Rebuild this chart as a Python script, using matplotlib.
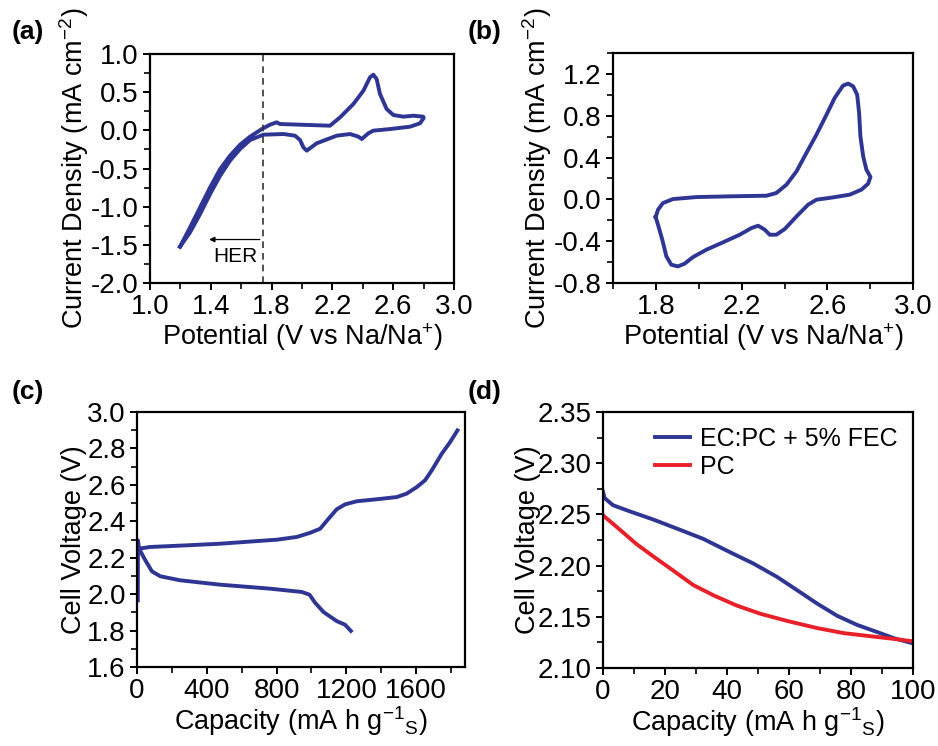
import numpy as np
import matplotlib.pyplot as plt
from matplotlib.ticker import MultipleLocator

plt.rcParams['font.family'] = ['Liberation Sans', 'DejaVu Sans']
plt.rcParams['mathtext.fontset'] = 'custom'
plt.rcParams['mathtext.rm'] = 'Liberation Sans'
plt.rcParams['mathtext.it'] = 'Liberation Sans:italic'
plt.rcParams['axes.unicode_minus'] = False

BLUE = '#2e3592'
RED = '#e8202a'

# (a) CV with HER region
cv_a_v = [1.197, 1.263, 1.329, 1.395, 1.461, 1.526, 1.592, 1.658, 1.735, 1.789, 1.833, 1.855,
          1.987, 2.184, 2.25, 2.338, 2.404, 2.447, 2.469, 2.491, 2.513, 2.557, 2.601, 2.667,
          2.732, 2.798, 2.80, 2.776, 2.711, 2.579, 2.469, 2.436, 2.393, 2.371, 2.316, 2.228,
          2.096, 2.031, 2.009, 1.987, 1.954, 1.877, 1.746, 1.658, 1.592, 1.526, 1.461, 1.395,
          1.329, 1.263, 1.197]
cv_a_i = [-1.524, -1.271, -1.009, -0.747, -0.507, -0.332, -0.188, -0.083, 0.017, 0.074, 0.105, 0.083,
          0.074, 0.061, 0.17, 0.345, 0.52, 0.694, 0.729, 0.672, 0.476, 0.279, 0.201, 0.179,
          0.192, 0.179, 0.16, 0.092, 0.048, 0.017, -0.004, -0.039, -0.114, -0.083, -0.048, -0.07,
          -0.17, -0.266, -0.223, -0.127, -0.07, -0.048, -0.057, -0.127, -0.245, -0.397, -0.594, -0.834,
          -1.096, -1.336, -1.524]
her_v = 1.74

# (b) CV
cv_b_v = [1.799, 1.81, 1.833, 1.88, 1.989, 2.144, 2.316, 2.362, 2.409, 2.456, 2.502, 2.549,
          2.596, 2.634, 2.673, 2.697, 2.72, 2.739, 2.748, 2.754, 2.767, 2.782, 2.801,
          2.79, 2.759, 2.704, 2.627, 2.549, 2.51, 2.456, 2.401, 2.362, 2.331, 2.308, 2.277,
          2.246, 2.191, 2.113, 2.036, 1.973, 1.934, 1.903, 1.872, 1.849, 1.83, 1.81, 1.799]
cv_b_i = [-0.169, -0.099, -0.035, 0.003, 0.022, 0.029, 0.035, 0.061, 0.14, 0.268, 0.443, 0.619,
          0.81, 0.97, 1.088, 1.107, 1.081, 1.001, 0.826, 0.603, 0.411, 0.284, 0.214,
          0.15, 0.093, 0.045, 0.019, -0.003, -0.051, -0.163, -0.284, -0.338, -0.338, -0.29, -0.252,
          -0.274, -0.338, -0.411, -0.481, -0.552, -0.615, -0.641, -0.625, -0.545, -0.386, -0.242, -0.169]

# (c) galvanostatic charge / discharge
chg_cap = [5, 6, 12, 76, 286, 477, 668, 802, 916, 993, 1050, 1098, 1145, 1193, 1260, 1375,
           1489, 1546, 1604, 1651, 1690, 1747, 1795, 1837]
chg_v = [1.966, 2.295, 2.25, 2.259, 2.268, 2.277, 2.29, 2.299, 2.314, 2.337, 2.359, 2.414,
         2.466, 2.493, 2.51, 2.521, 2.533, 2.552, 2.588, 2.625, 2.68, 2.771, 2.835, 2.899]
dis_cap = [12, 48, 86, 134, 248, 477, 764, 945, 989, 1021, 1069, 1145, 1193, 1226]
dis_v = [2.25, 2.186, 2.125, 2.098, 2.076, 2.052, 2.03, 2.012, 1.997, 1.953, 1.902, 1.852,
         1.832, 1.798]

# (d) discharge, two electrolytes
d_cap_fec = [0, 0.5, 3.2, 8.6, 16.2, 24.8, 32.4, 41, 48.5, 56.1, 62.6, 69, 75.5, 82, 88.5, 93.9, 100]
d_v_fec = [2.272, 2.266, 2.259, 2.253, 2.245, 2.235, 2.226, 2.213, 2.202, 2.189, 2.176, 2.163,
           2.151, 2.142, 2.135, 2.129, 2.124]
d_cap_pc = [0, 4.3, 10.8, 16.2, 22.7, 29.1, 35.6, 43.1, 50.7, 59.3, 69, 77.7, 86.3, 94.9, 100]
d_v_pc = [2.249, 2.238, 2.221, 2.209, 2.195, 2.181, 2.171, 2.161, 2.153, 2.146, 2.139, 2.134,
          2.131, 2.128, 2.126]

fig = plt.figure(figsize=(9.38, 7.46), dpi=100)
ax_a = fig.add_axes([0.160, 0.6206, 0.324, 0.307])
ax_b = fig.add_axes([0.6535, 0.6206, 0.320, 0.3084])
ax_c = fig.add_axes([0.146, 0.1059, 0.3497, 0.3418])
ax_d = fig.add_axes([0.6429, 0.1046, 0.3305, 0.3431])

TICK_FS = 20
LAB_FS = 19.5


def style(ax):
    for s in ax.spines.values():
        s.set_linewidth(1.6)
    ax.tick_params(which='major', direction='out', length=5, width=1.4, pad=3, labelsize=TICK_FS)
    ax.tick_params(which='minor', direction='out', length=4, width=1.2)


lw = 2.8
ax_a.plot(cv_a_v, cv_a_i, color=BLUE, lw=lw, solid_joinstyle='round')
ax_a.axvline(her_v, color='#333333', ls=(0, (4, 3)), lw=1.2)
ax_a.annotate('', xy=(1.37, -1.43), xytext=(her_v, -1.43),
              arrowprops=dict(arrowstyle='-|>', color='black', lw=0.9, mutation_scale=8))
ax_a.text(1.56, -1.65, 'HER', ha='center', va='center', fontsize=15)
ax_a.set_xlim(1.0, 3.0)
ax_a.set_ylim(-2.0, 1.0)
ax_a.set_xticks([1.0, 1.4, 1.8, 2.2, 2.6, 3.0])
ax_a.xaxis.set_minor_locator(MultipleLocator(0.2))
ax_a.yaxis.set_major_locator(MultipleLocator(0.5))
ax_a.yaxis.set_minor_locator(MultipleLocator(0.25))
ax_a.xaxis.set_major_formatter(lambda x, p: f'{x:.1f}')
ax_a.set_xlabel('Potential (V vs Na/Na$^{+}$)', fontsize=LAB_FS, labelpad=1)
ax_a.set_ylabel('Current Density (mA cm$^{-2}$)', fontsize=LAB_FS, labelpad=0)
style(ax_a)

ax_b.plot(cv_b_v, cv_b_i, color=BLUE, lw=lw, solid_joinstyle='round')
ax_b.set_xlim(1.6, 3.0)
ax_b.set_ylim(-0.8, 1.4)
ax_b.set_xticks([1.8, 2.2, 2.6, 3.0])
ax_b.xaxis.set_minor_locator(MultipleLocator(0.2))
ax_b.set_yticks([-0.8, -0.4, 0.0, 0.4, 0.8, 1.2])
ax_b.yaxis.set_minor_locator(MultipleLocator(0.2))
ax_b.set_xlabel('Potential (V vs Na/Na$^{+}$)', fontsize=LAB_FS, labelpad=1)
ax_b.set_ylabel('Current Density (mA cm$^{-2}$)', fontsize=LAB_FS, labelpad=0)
style(ax_b)

ax_c.plot(chg_cap, chg_v, color=BLUE, lw=lw, solid_joinstyle='round')
ax_c.plot(dis_cap, dis_v, color=BLUE, lw=lw, solid_joinstyle='round')
ax_c.set_xlim(0, 1880)
ax_c.set_ylim(1.6, 3.0)
ax_c.xaxis.set_major_locator(MultipleLocator(400))
ax_c.xaxis.set_minor_locator(MultipleLocator(200))
ax_c.yaxis.set_major_locator(MultipleLocator(0.2))
ax_c.yaxis.set_minor_locator(MultipleLocator(0.1))
ax_c.set_xlabel('Capacity (mA h g$^{-1}$$_{\\rm S}$)', fontsize=LAB_FS, labelpad=0)
ax_c.set_ylabel('Cell Voltage (V)', fontsize=LAB_FS, labelpad=0)
style(ax_c)

ax_d.plot(d_cap_fec, d_v_fec, color=BLUE, lw=lw, label='EC:PC + 5% FEC')
ax_d.plot(d_cap_pc, d_v_pc, color=RED, lw=lw, label='PC')
ax_d.set_xlim(0, 100)
ax_d.set_ylim(2.10, 2.35)
ax_d.xaxis.set_major_locator(MultipleLocator(20))
ax_d.xaxis.set_minor_locator(MultipleLocator(10))
ax_d.yaxis.set_major_locator(MultipleLocator(0.05))
ax_d.yaxis.set_minor_locator(MultipleLocator(0.025))
ax_d.yaxis.set_major_formatter(lambda y, p: f'{y:.2f}')
ax_d.set_xlabel('Capacity (mA h g$^{-1}$$_{\\rm S}$)', fontsize=LAB_FS, labelpad=0)
ax_d.set_ylabel('Cell Voltage (V)', fontsize=LAB_FS, labelpad=-2)
ax_d.legend(loc='upper right', frameon=False, fontsize=18, handlelength=1.4,
            handletextpad=0.4, labelspacing=0.15, borderaxespad=0.2)
style(ax_d)

fig.text(0.012, 0.957, '(a)', fontsize=19, fontweight='bold', va='center')
fig.text(0.499, 0.957, '(b)', fontsize=19, fontweight='bold', va='center')
fig.text(0.012, 0.474, '(c)', fontsize=19, fontweight='bold', va='center')
fig.text(0.499, 0.474, '(d)', fontsize=19, fontweight='bold', va='center')

fig.savefig('out.png', dpi=100)
